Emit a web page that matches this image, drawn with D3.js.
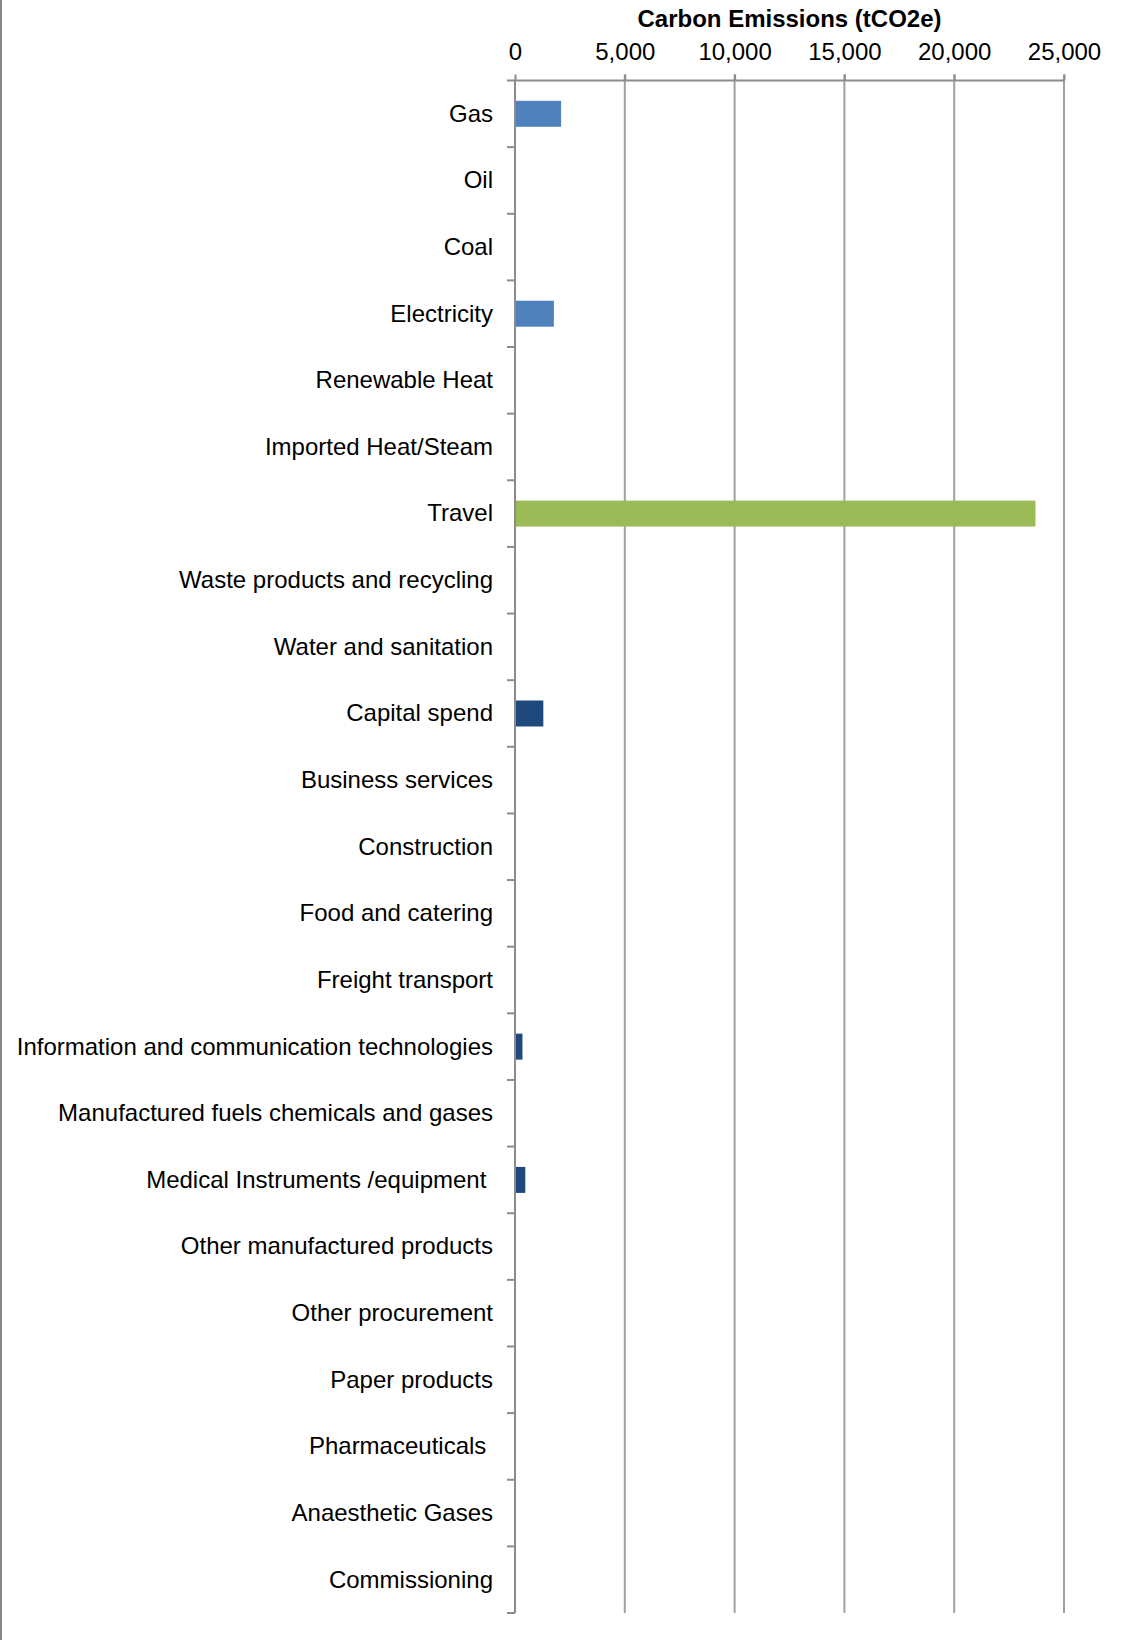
<!DOCTYPE html>
<html>
<head>
<meta charset="utf-8">
<script src="https://cdn.jsdelivr.net/npm/d3@7"></script>
<style>
html,body{margin:0;padding:0;background:#fff;}
svg{display:block;}
text{font-family:"Liberation Sans",Arial,sans-serif;fill:#000;}
</style>
</head>
<body>
<svg id="chart" width="1129" height="1640"></svg>
<script>
const categories = ["Gas","Oil","Coal","Electricity","Renewable Heat","Imported Heat/Steam","Travel","Waste products and recycling","Water and sanitation","Capital spend","Business services","Construction","Food and catering","Freight transport","Information and communication technologies","Manufactured fuels chemicals and gases","Medical Instruments /equipment ","Other manufactured products","Other procurement","Paper products","Pharmaceuticals ","Anaesthetic Gases","Commissioning"];
const values = [2100,0,0,1770,0,0,23700,50,0,1290,0,0,0,0,340,0,470,0,0,0,0,0,0];
const groups = ["energy","energy","energy","energy","energy","energy","travel","waste","waste","procure","procure","procure","procure","procure","procure","procure","procure","procure","procure","procure","procure","procure","procure"];
const groupColors = {energy:"#4F81BD", travel:"#9BBB59", waste:"#8EA9C8", procure:"#1F497D"};
const xTicks = [0,5000,10000,15000,20000,25000];
const axisTitle = "Carbon Emissions (tCO2e)";

(function(){
const svg = d3.select("#chart");
const mLeft = 515, mRight = 1064, mTop = 80.5, mBottom = 1613;
const x = d3.scaleLinear().domain([0,25000]).range([mLeft,mRight]);
const y = d3.scaleBand().domain(categories).range([mTop,mBottom]).paddingInner(0.61).paddingOuter(0.305);
const step = y.step();
const grey = "#8c8c8c";

// left chart border
svg.append("line").attr("x1",1).attr("x2",1).attr("y1",0).attr("y2",1640).attr("stroke","#888").attr("stroke-width",2);

// gridlines
svg.append("g").selectAll("line").data(xTicks.slice(1)).join("line")
  .attr("x1",d=>x(d)).attr("x2",d=>x(d)).attr("y1",mTop-6).attr("y2",mBottom)
  .attr("stroke","#a0a0a0").attr("stroke-width",2);

// top axis
const xAxis = d3.axisTop(x).tickValues(xTicks).tickFormat(d3.format(",")).tickSize(0).tickPadding(0);
const gx = svg.append("g").attr("transform",`translate(0,${mTop})`).call(xAxis);
gx.select(".domain").remove();
gx.selectAll(".tick text").attr("y",-28.5).attr("dy","0.35em").style("font-size","24px").style("font-family",'"Liberation Sans",Arial,sans-serif').attr("fill","#000");
gx.selectAll(".tick").append("line").attr("y1",-6).attr("y2",0).attr("stroke",grey).attr("stroke-width",2);
svg.append("line").attr("x1",mLeft-8).attr("x2",mRight).attr("y1",mTop).attr("y2",mTop).attr("stroke",grey).attr("stroke-width",2);

// title
svg.append("text").attr("x",(mLeft+mRight)/2).attr("y",19).attr("dy","0.35em").attr("text-anchor","middle")
  .style("font-size","24px").style("font-weight","bold").text(axisTitle);

// bars
svg.append("g").selectAll("rect").data(categories).join("rect")
  .attr("x",x(0)).attr("y",d=>y(d))
  .attr("width",(d,i)=>Math.max(0,x(values[i])-x(0)))
  .attr("height",y.bandwidth())
  .attr("fill",(d,i)=>groupColors[groups[i]]);

// y axis line and ticks
svg.append("line").attr("x1",mLeft).attr("x2",mLeft).attr("y1",mTop).attr("y2",mBottom).attr("stroke",grey).attr("stroke-width",2);
svg.append("g").selectAll("line").data(d3.range(1,categories.length+1)).join("line")
  .attr("x1",mLeft-8).attr("x2",mLeft).attr("y1",i=>mTop+i*step).attr("y2",i=>mTop+i*step)
  .attr("stroke",grey).attr("stroke-width",2);

// category labels
svg.append("g").selectAll("text").data(categories).join("text")
  .attr("x",493).attr("y",d=>y(d)+y.bandwidth()/2-0.5).attr("dy","0.35em")
  .attr("text-anchor","end").style("font-size","24px").style("white-space","pre")
  .text(d=>d);
})();
</script>
</body>
</html>
